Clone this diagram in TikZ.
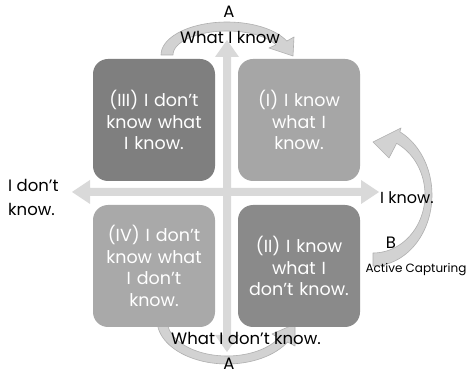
\documentclass[tikz,border=0pt]{standalone}
\usepackage{fontspec}
\setmainfont{Poppins}
\definecolor{boxIII}{HTML}{7F7F7F}
\definecolor{boxI}{HTML}{A6A6A6}
\definecolor{boxIV}{HTML}{A9A9A9}
\definecolor{boxII}{HTML}{8A8A8A}
\definecolor{axisgray}{HTML}{D9D9D9}
\definecolor{curvefill}{HTML}{D2D2D2}
\definecolor{curveline}{HTML}{AFAFAF}
\tikzset{
  quad/.style={rounded corners=15pt, minimum width=122pt, minimum height=122pt,
    inner sep=0pt, text=white, align=center, text width=116pt,
    font=\fontsize{17.5}{21.5}\selectfont},
  lab/.style={font=\fontsize{16.5}{24}\selectfont, inner sep=0pt},
  curvearrow/.style={fill=curvefill, draw=curveline, line width=0.6pt, line join=round},
}
\begin{document}
\begin{tikzpicture}[x=1pt,y=-1pt]
\useasboundingbox (0,0) rectangle (469,374);
\fill[white] (0,0) rectangle (469,374);
% axes
\fill[axisgray] (72,192) -- (90,180) -- (90,188) -- (361,188) -- (361,180) -- (379,192)
  -- (361,204) -- (361,196) -- (90,196) -- (90,204) -- cycle;
\fill[axisgray] (227,40) -- (239,57) -- (231,57) -- (231,335) -- (239,335) -- (227,352)
  -- (215,335) -- (223,335) -- (223,57) -- (215,57) -- cycle;
% top curved arrow
\draw[curvearrow] plot[domain=180:25, samples=40] ({227+66*cos(\x)},{55-33*sin(\x)})
  -- (294,37) -- (293,56) -- (269,48)
  -- plot[domain=25:180, samples=40] ({227+54*cos(\x)},{55-24*sin(\x)}) -- cycle;
% bottom curved arrow
\draw[curvearrow] plot[domain=180:330, samples=40] ({227+70*cos(\x)},{320-44*sin(\x)})
  -- (295,346) -- (295,324) -- (272,334)
  -- plot[domain=330:180, samples=40] ({227+60*cos(\x)},{320-36*sin(\x)}) -- cycle;
% right curved arrow (B)
\draw[curvearrow] plot[domain=-90:63, samples=50] ({373+59*cos(\x)},{195-71*sin(\x)})
  -- (401,128) -- (373,142) -- (389,158)
  -- plot[domain=63:-90, samples=50] ({373+52*cos(\x)},{195-58*sin(\x)}) -- cycle;
% quadrants
\node[quad, fill=boxIII] (q3) at (154,120) {(III) I don't\\know what\\I know.};
\node[quad, fill=boxI] (q1) at (299,120) {(I) I know\\what I\\know.};
\node[quad, fill=boxIV] (q4) at (154,266) {(IV) I don't\\know what\\I don't\\know.};
\node[quad, fill=boxII] (q2) at (299,266) {(II) I know\\what I\\don't know.};
% labels
\node[lab] (atop) at (229,12) {A};
\node[lab] (wik) at (230,37) {What I know};
\node[lab, anchor=west, align=left] (idk) at (8,197) {I don't\\know.};
\node[lab, font=\fontsize{16}{24}\selectfont, anchor=west] (ik) at (380,198) {I know.};
\node[lab] (b) at (391,243) {B};
\node[font=\fontsize{12}{14}\selectfont, inner sep=0pt] (ac) at (416,270) {Active Capturing};
\node[lab] (widk) at (246,338) {What I don't know.};
\node[lab] (abot) at (229,364) {A};
\end{tikzpicture}
\end{document}
